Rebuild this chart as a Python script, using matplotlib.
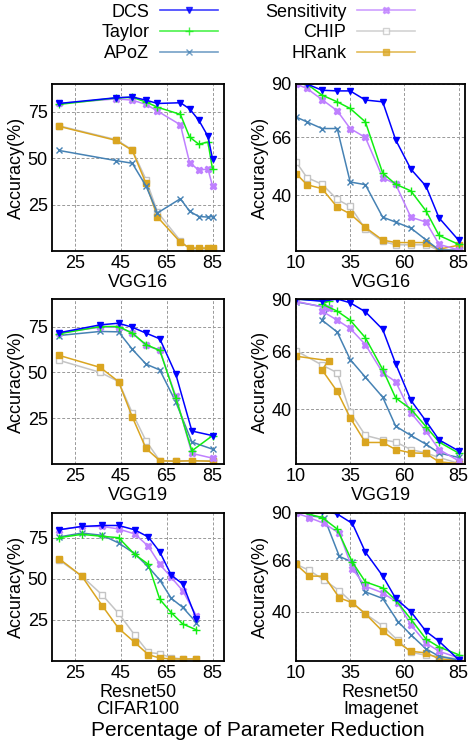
import matplotlib
matplotlib.use("Agg")
import matplotlib.pyplot as plt
from matplotlib.lines import Line2D

plt.rcParams['font.family'] = ['Liberation Sans', 'DejaVu Sans']
plt.rcParams['font.size'] = 13

methods = ['DCS', 'Taylor', 'APoZ', 'Sensitivity', 'CHIP', 'HRank']

# VGG16 / CIFAR100
v16c_x = [18, 43, 50, 56, 61, 71, 75, 79, 83, 85]
v16c_dcs = [79.5, 82.6, 83, 81.3, 79.5, 79.9, 76.6, 70.5, 61.8, 49.6]
v16c_taylor = [79, 82.5, 82.8, 80.3, 77.5, 73.6, 61.4, 57.6, 58.7, 44]
v16c_apoz = [54.2, 48.7, 47.3, 35, 20.5, 28.2, 21.4, 18.6, 18.3, 18.6]
v16c_sens = [79.5, 82, 81.3, 79, 75.4, 68, 47.6, 43.6, 44.2, 35]
v16c_chip = [67.5, 60, 54.5, 38.5, 21, 5.5, 1.2, 1.2, 1.2, 1.2]
v16c_hrank = [67.2, 59.6, 54.2, 36.4, 18.3, 4.7, 1.6, 1.6, 1.6, 1.6]

# VGG16 / ImageNet
v16i_x_a = [15, 22, 29, 35, 42, 50, 56, 63, 70, 76, 85]
v16i_x_b = [10, 15, 22, 29, 35, 42, 50, 56, 63, 70, 76, 85]
v16i_dcs = [90, 87.2, 86.9, 86.9, 82.8, 82, 64.9, 51.8, 44.1, 29.9, 19.9]
v16i_taylor = [90, 85, 82, 79, 73, 50, 45, 42, 33, 22, 18]
v16i_sens = [90, 88, 83, 78, 70, 66, 48, 45, 30.2, 28, 18, 15.5]
v16i_apoz = [75.2, 73, 70, 70, 46, 44.8, 30.2, 28, 25.3, 20, 15.5, 15.3]
v16i_chip = [55.1, 48, 45, 38.2, 35, 24.9, 19.3, 17.8, 17.8, 17.8, 15.3, 15.8]
v16i_hrank = [49.8, 44.8, 43, 34.7, 31.7, 25.6, 19.9, 18.8, 18.8, 18.8, 15.8, 17.6]

# VGG19 / CIFAR100
v19c_x = [18, 36, 44, 50, 56, 62, 69, 76, 85]
v19c_dcs = [71.6, 75.9, 76.8, 74.6, 71.4, 68.3, 48.9, 18, 15.5]
v19c_taylor = [71, 75, 75, 71.4, 65.1, 62, 36, 7.2, 15.5]
v19c_apoz = [70.1, 72.3, 72.1, 62.6, 54.5, 51.3, 33.8, 12, 8.1]
v19c_sens = [71.6, 74.6, 74.6, 71.4, 64.7, 62, 36.9, 5.8, 3.2]
v19c_chip = [56.6, 50, 45, 27.9, 12.6, 1.8, 1.8, 1.8, 1.8]
v19c_hrank = [59.3, 52.7, 45, 25.7, 8.5, 1.8, 1.5, 1.8, 1.5]

# VGG19 / ImageNet
v19i_x_dcs = [10, 22, 29, 35, 42, 50, 56, 63, 70, 76, 85]
v19i_x = [10, 25, 22, 29, 35, 42, 50, 56, 63, 70, 76, 85]
v19i_x_chip = [10, 22, 29, 35, 42, 50, 56, 63, 70, 76, 85]
v19i_dcs = [90, 89, 90, 88.3, 84.2, 76.2, 60.5, 44, 34.5, 26, 21]
v19i_taylor = [90, 89, 87.7, 84.5, 80.4, 72.4, 58, 45, 40, 32, 25, 20]
v19i_apoz = [88.7, 86, 80.4, 75, 62.5, 54.5, 45.4, 32.2, 28, 24, 20, 18]
v19i_sens = [89, 85.7, 84.5, 80.4, 76.6, 69.3, 56.5, 52.4, 38.3, 30, 21.6, 16.5]
v19i_chip = [66.5, 60, 56.5, 38.5, 28, 26, 25, 21.6, 20, 18, 15.3]
v19i_hrank = [64, 62, 57.8, 48, 36, 24.8, 24.8, 21.6, 20.1, 19.8, 16, 15.2]

# Resnet50 / CIFAR100
r50c_x = [18, 28, 37, 44, 51, 57, 62, 67, 72, 78]
r50c_dcs = [79.8, 81.8, 82.4, 82.4, 79.8, 75.4, 66.3, 52.2, 46.8, 25.4]
r50c_taylor = [75, 77, 75.8, 75, 64.9, 58.8, 37.5, 29.4, 22.5, 18.9]
r50c_apoz = [75.4, 77.8, 76.4, 71.8, 65.3, 57.2, 49.2, 38.1, 32.6, 23.3]
r50c_sens = [79.8, 81.8, 81.8, 80.3, 77.3, 69.8, 58.8, 50.8, 42.7, 27.4]
r50c_chip = [61.5, 51.6, 40, 29, 15.9, 5.2, 4.4, 2, 1.2, 1.2]
r50c_hrank = [62.3, 51.6, 33.4, 19.9, 11.4, 3.8, 1.8, 1.2, 1.2, 1.2]

# Resnet50 / ImageNet
r50i_x_dcs = [22, 29, 36, 42, 50, 56, 63, 70, 76, 85]
r50i_x_taylor = [10, 22, 29, 36, 42, 50, 56, 63, 70, 76, 85]
r50i_x_apoz = [16, 23, 30, 36, 42, 50, 57, 63, 70, 76, 85]
r50i_x = [10, 16, 23, 30, 36, 42, 50, 57, 63, 70, 76, 85]
r50i_dcs = [91, 89.5, 84.7, 70.2, 58.1, 46.7, 40, 30, 25, 15.7]
r50i_taylor = [91, 87.7, 81.9, 65.1, 55.1, 52, 45.9, 36.2, 26.1, 22.1, 18.2]
r50i_apoz = [88.6, 87.7, 68, 65.1, 50, 46.7, 35, 28.3, 21.1, 17.4, 15.5]
r50i_sens = [90, 87.7, 84.7, 79.7, 61.8, 52.9, 49.5, 44.5, 33.3, 24.1, 19.9, 16.6]
r50i_chip = [64, 61, 56, 50.6, 44.5, 38.9, 32.8, 25.4, 19.4, 17.9, 17.4, 16]
r50i_hrank = [64, 58, 58, 47, 44.5, 38.9, 30, 24.4, 19.9, 19.1, 16.1, 15.4]

styles = {
    'DCS': dict(color='#0000ff', marker='v', ms=5),
    'Taylor': dict(color='#11ee11', marker='+', ms=6),
    'APoZ': dict(color='#4682b4', marker='x', ms=5),
    'Sensitivity': dict(color='#bf80ff', marker='X', ms=5),
    'CHIP': dict(color='#c4c4c4', marker='s', ms=5, mfc='white'),
    'HRank': dict(color='#daa520', marker='s', ms=5),
}
draw_order = ['CHIP', 'HRank', 'APoZ', 'Sensitivity', 'Taylor', 'DCS']

panels = [
    # (left, bottom, width, height), xlabel, xlim, xticks, ylim, yticks, series
    ((0.1104, 0.6626, 0.3652, 0.2245), 'VGG16', (15, 90), [25, 45, 65, 85], (0, 90), [25, 50, 75],
     {'DCS': (v16c_x, v16c_dcs), 'Taylor': (v16c_x, v16c_taylor), 'APoZ': (v16c_x, v16c_apoz),
      'Sensitivity': (v16c_x, v16c_sens), 'CHIP': (v16c_x, v16c_chip), 'HRank': (v16c_x, v16c_hrank)}),
    ((0.6285, 0.6626, 0.3588, 0.2245), 'VGG16', (10, 88), [10, 35, 60, 85], (15, 90), [40, 66, 90],
     {'DCS': (v16i_x_a, v16i_dcs), 'Taylor': (v16i_x_a, v16i_taylor), 'APoZ': (v16i_x_b, v16i_apoz),
      'Sensitivity': (v16i_x_b, v16i_sens), 'CHIP': (v16i_x_b, v16i_chip), 'HRank': (v16i_x_b, v16i_hrank)}),
    ((0.1104, 0.3763, 0.3652, 0.2218), 'VGG19', (15, 90), [25, 45, 65, 85], (0, 90), [25, 50, 75],
     {'DCS': (v19c_x, v19c_dcs), 'Taylor': (v19c_x, v19c_taylor), 'APoZ': (v19c_x, v19c_apoz),
      'Sensitivity': (v19c_x, v19c_sens), 'CHIP': (v19c_x, v19c_chip), 'HRank': (v19c_x, v19c_hrank)}),
    ((0.6285, 0.3763, 0.3588, 0.2218), 'VGG19', (10, 88), [10, 35, 60, 85], (15, 90), [40, 66, 90],
     {'DCS': (v19i_x_dcs, v19i_dcs), 'Taylor': (v19i_x, v19i_taylor), 'APoZ': (v19i_x, v19i_apoz),
      'Sensitivity': (v19i_x, v19i_sens), 'CHIP': (v19i_x_chip, v19i_chip), 'HRank': (v19i_x, v19i_hrank)}),
    ((0.1104, 0.1116, 0.3652, 0.1989), 'Resnet50\nCIFAR100', (15, 90), [25, 45, 65, 85], (0, 90), [25, 50, 75],
     {'DCS': (r50c_x, r50c_dcs), 'Taylor': (r50c_x, r50c_taylor), 'APoZ': (r50c_x, r50c_apoz),
      'Sensitivity': (r50c_x, r50c_sens), 'CHIP': (r50c_x, r50c_chip), 'HRank': (r50c_x, r50c_hrank)}),
    ((0.6285, 0.1116, 0.3588, 0.1989), 'Resnet50\nImagenet', (10, 88), [10, 35, 60, 85], (15, 90), [40, 66, 90],
     {'DCS': (r50i_x_dcs, r50i_dcs), 'Taylor': (r50i_x_taylor, r50i_taylor), 'APoZ': (r50i_x_apoz, r50i_apoz),
      'Sensitivity': (r50i_x, r50i_sens), 'CHIP': (r50i_x, r50i_chip), 'HRank': (r50i_x, r50i_hrank)}),
]

fig = plt.figure(figsize=(4.71, 7.44), dpi=100)

for rect, xlabel, xlim, xticks, ylim, yticks, series in panels:
    ax = fig.add_axes(rect)
    for name in draw_order:
        xs, ys = series[name]
        st = styles[name]
        ax.plot(xs, ys, color=st['color'], marker=st['marker'], ms=st['ms'],
                mfc=st.get('mfc', st['color']), mew=1.0, lw=1.1)
    ax.set_xlim(*xlim)
    ax.set_ylim(*ylim)
    ax.set_xticks(xticks)
    ax.set_yticks(yticks)
    ax.set_xlabel(xlabel, labelpad=1, linespacing=1.05)
    ax.set_ylabel('Accuracy(%)', labelpad=2)
    ax.grid(True, color='#999999', linestyle=(0, (3, 2)), linewidth=0.7)
    ax.tick_params(direction='in', length=0, pad=3)
    for sp in ax.spines.values():
        sp.set_linewidth(1.3)

handles = []
for name in methods:
    st = styles[name]
    handles.append(Line2D([], [], color=st['color'], marker=st['marker'], ms=st['ms'],
                          mfc=st.get('mfc', st['color']), lw=1.2, alpha=0.75))
fig.legend(handles, methods, ncol=2, loc='upper center', bbox_to_anchor=(0.548, 1.0),
           frameon=False, markerfirst=False, handlelength=3.2, handletextpad=0.6,
           columnspacing=2.6, labelspacing=0.2, borderpad=0.1, borderaxespad=0.1, numpoints=1)

fig.text(0.548, 0.005, 'Percentage of Parameter Reduction', ha='center', va='bottom', fontsize=15)

fig.savefig('out.png', dpi=100)
